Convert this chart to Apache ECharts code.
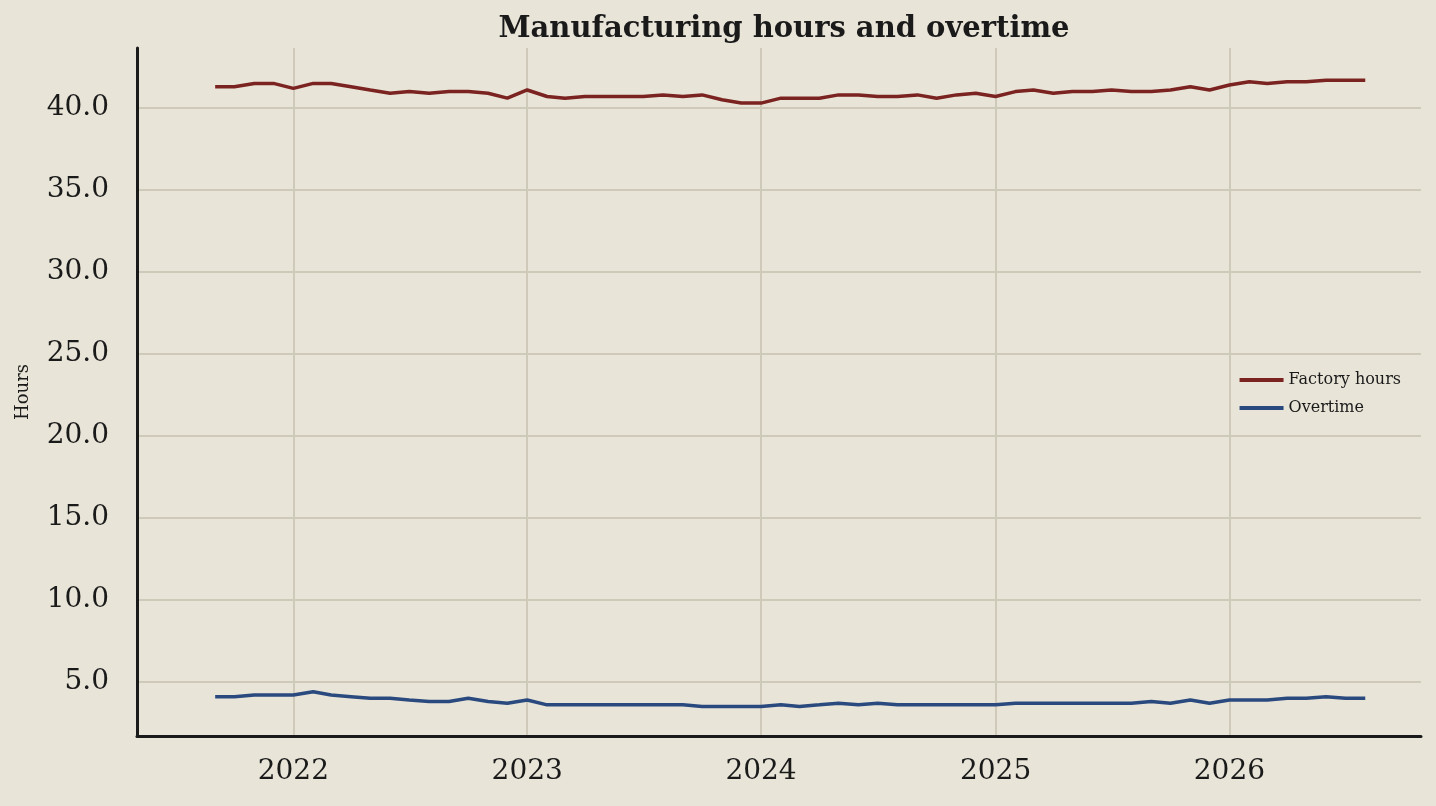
<!DOCTYPE html>
<html><head><meta charset="utf-8">
<script src="https://cdn.jsdelivr.net/npm/echarts@6/dist/echarts.min.js"></script>
<style>html,body{margin:0;padding:0;background:#e8e4d7}#c{width:1436px;height:806px}</style>
</head><body><div id="c"></div>
<script>
const startMonth = '2021-09';
const factoryHours = [41.3,41.3,41.5,41.5,
 41.2,41.5,41.5,41.3,41.1,40.9,41.0,40.9,41.0,41.0,40.9,40.6,
 41.1,40.7,40.6,40.7,40.7,40.7,40.7,40.8,40.7,40.8,40.5,40.3,
 40.3,40.6,40.6,40.6,40.8,40.8,40.7,40.7,40.8,40.6,40.8,40.9,
 40.7,41.0,41.1,40.9,41.0,41.0,41.1,41.0,41.0,41.1,41.3,41.1,
 41.4,41.6,41.5,41.6,41.6,41.7,41.7,41.7];
const overtime = [4.1,4.1,4.2,4.2,
 4.2,4.4,4.2,4.1,4.0,4.0,3.9,3.8,3.8,4.0,3.8,3.7,
 3.9,3.6,3.6,3.6,3.6,3.6,3.6,3.6,3.6,3.5,3.5,3.5,
 3.5,3.6,3.5,3.6,3.7,3.6,3.7,3.6,3.6,3.6,3.6,3.6,
 3.6,3.7,3.7,3.7,3.7,3.7,3.7,3.7,3.8,3.7,3.9,3.7,
 3.9,3.9,3.9,4.0,4.0,4.1,4.0,4.0];
const yTicks = [5,10,15,20,25,30,35,40];
const xTickYears = [2022,2023,2024,2025,2026];

const months = factoryHours.map((_, i) => {
  const y = 2021, m = 8 + i;
  return Date.UTC(y + Math.floor(m / 12), m % 12, 1);
});
const xTicks = xTickYears.map(y => Date.UTC(y, 0, 1));
const serif = 'DejaVu Serif';
const grid = {color:'#cfc9ba', width:2};
const chart = echarts.init(document.getElementById('c'));
chart.setOption({
  backgroundColor:'#e8e4d7',
  animation:false,
  title:{text:'Manufacturing hours and overtime', left:779, top:10, textAlign:'center',
    textStyle:{fontFamily:serif, fontWeight:'bold', fontSize:29, color:'#1a1a1a'}},
  grid:{left:137, right:15, top:48, bottom:70},
  legend:{right:30, top:367, orient:'vertical', itemWidth:44, itemHeight:4, itemGap:12,
    icon:'rect', textStyle:{fontFamily:serif, fontSize:16, color:'#1a1a1a'},
    data:['Factory hours','Overtime']},
  xAxis:{type:'value', min:Date.UTC(2021,4,2), max:Date.UTC(2026,9,27),
    axisLine:{onZero:false, lineStyle:{color:'#1a1a1a', width:3}},
    axisTick:{show:false, customValues:xTicks},
    axisLabel:{customValues:xTicks, formatter:v => String(new Date(v).getUTCFullYear()),
      fontFamily:serif, fontSize:28, color:'#1a1a1a', margin:22},
    splitLine:{show:true, lineStyle:grid}},
  yAxis:{type:'value', min:1.7, max:43.66, name:'Hours', nameLocation:'middle', nameGap:105,
    nameTextStyle:{fontFamily:serif, fontSize:18, color:'#1a1a1a'},
    axisLine:{show:true, onZero:false, lineStyle:{color:'#1a1a1a', width:3}},
    axisTick:{show:false, customValues:yTicks},
    axisLabel:{customValues:yTicks, formatter:v => v.toFixed(1),
      fontFamily:serif, fontSize:28, color:'#1a1a1a', margin:28},
    splitLine:{show:true, lineStyle:grid}},
  series:[
    {name:'Factory hours', type:'line', showSymbol:false, symbol:'none',
      data:months.map((t,i)=>[t,factoryHours[i]]),
      lineStyle:{color:'#7b2320', width:3.5}, itemStyle:{color:'#7b2320'}},
    {name:'Overtime', type:'line', showSymbol:false, symbol:'none',
      data:months.map((t,i)=>[t,overtime[i]]),
      lineStyle:{color:'#2a4a7f', width:3.5}, itemStyle:{color:'#2a4a7f'}}
  ]
});
</script></body></html>
